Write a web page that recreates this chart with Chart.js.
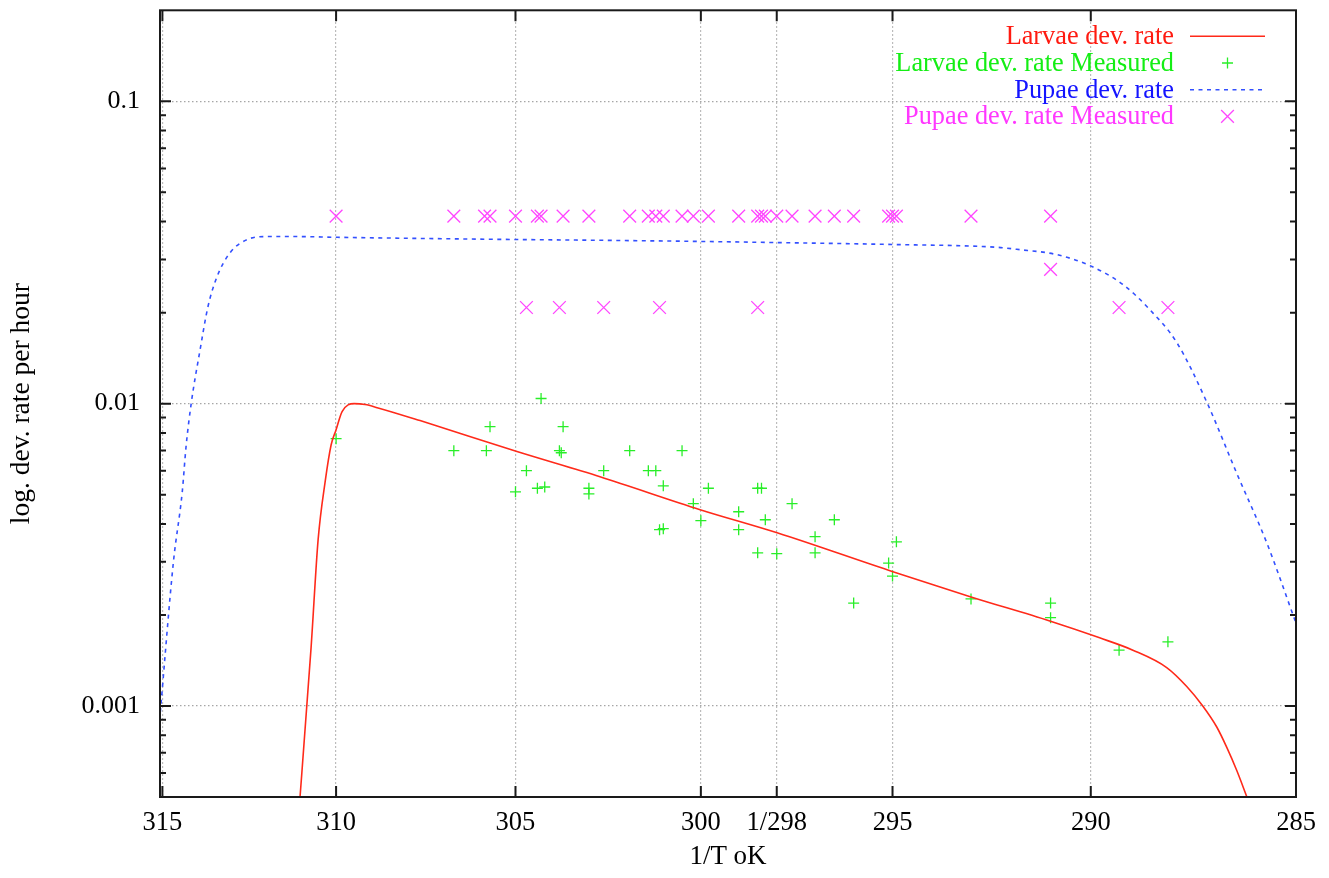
<!DOCTYPE html>
<html>
<head>
<meta charset="utf-8">
<title>Larvae and pupae development rate</title>
<script src="https://cdn.jsdelivr.net/npm/chart.js@4.4.0/dist/chart.umd.min.js"></script>
<style>
  html, body { margin: 0; padding: 0; background: #fff; }
  #chart { display: block; }
</style>
</head>
<body>
<canvas id="chart" width="1329" height="878"></canvas>
<script>
// temperatures in K, rates per hour
const larvaeFitT = [311.11, 310.71, 310.51, 310.31, 310.14, 310.0, 309.83, 309.49, 309.18, 308.84,
  307.64, 304.96, 302.70, 300.02, 297.99, 294.99, 292.98, 291.02, 289.78, 288.96,
  288.13, 287.64, 287.25, 286.91, 286.67, 286.43, 286.19, 286.06];
const larvaeFitRate = [0.00037, 0.00156, 0.00355, 0.00552, 0.00731, 0.0082, 0.00941, 0.0100, 0.00993, 0.0097,
  0.00879, 0.00694, 0.00573, 0.00446, 0.00374, 0.00278, 0.00229, 0.00191, 0.00168, 0.00153,
  0.00134, 0.00116, 0.00100, 0.000852, 0.000731, 0.000614, 0.000504, 0.000452];

const larvaeMeasT = [310.0, 306.7, 305.8, 305.7, 305.0, 304.7, 304.4, 304.2, 304.3, 303.8,
  303.75, 303.7, 303.0, 303.0, 302.6, 301.9, 301.4, 301.2, 301.1, 301.0,
  301.0, 300.5, 300.2, 300.0, 299.8, 299.0, 299.0, 298.5, 298.4, 298.3,
  298.5, 298.0, 297.6, 297.0, 297.0, 296.5, 296.0, 295.1, 295.0, 294.9,
  293.0, 291.0, 291.0, 289.3, 288.1];
const larvaeMeasRate = [0.00766, 0.00699, 0.00699, 0.00839, 0.00511, 0.00600, 0.00525, 0.00530, 0.0104, 0.00699,
  0.00688, 0.00839, 0.00525, 0.00503, 0.00600, 0.00699, 0.00600, 0.00600, 0.00383, 0.00386,
  0.00535, 0.00699, 0.00467, 0.00410, 0.00525, 0.00439, 0.00383, 0.00525, 0.00525, 0.00413,
  0.00321, 0.00319, 0.00467, 0.00363, 0.00321, 0.00413, 0.00219, 0.00297, 0.00269, 0.00349,
  0.00226, 0.00219, 0.00196, 0.00153, 0.00163];

const pupaeFitT = [315.06, 314.68, 314.42, 314.31, 314.16, 313.90, 313.67, 313.41, 313.03, 312.54,
  311.97, 311.22, 309.97, 307.72, 304.96, 302.70, 300.02, 297.97, 294.99, 292.35,
  291.85, 290.84, 289.97, 289.21, 288.55, 287.88, 287.15, 286.43, 285.70, 285.0];
const pupaeFitRate = [0.000955, 0.00298, 0.00511, 0.0072, 0.0100, 0.0151, 0.0210, 0.0263, 0.0316, 0.0349,
  0.0357, 0.0357, 0.0355, 0.0352, 0.0349, 0.0347, 0.0344, 0.0341, 0.0336, 0.0329,
  0.0324, 0.0311, 0.0284, 0.0248, 0.0205, 0.0159, 0.0101, 0.0059, 0.00346, 0.00188];

const pupaeMeasT = [310.0, 306.7, 305.85, 305.7, 305.0, 304.4, 304.3, 303.7, 303.0, 301.9,
  301.4, 301.2, 301.0, 300.5, 300.2, 299.8, 299.0, 298.5, 298.4, 298.3,
  298.0, 297.6, 297.0, 296.5, 296.0, 295.1, 295.0, 294.9, 293.0, 291.0,
  291.0, 304.7, 303.8, 302.6, 301.1, 298.5, 289.3, 288.1];
const pupaeMeasRate = [0.0417, 0.0417, 0.0417, 0.0417, 0.0417, 0.0417, 0.0417, 0.0417, 0.0417, 0.0417,
  0.0417, 0.0417, 0.0417, 0.0417, 0.0417, 0.0417, 0.0417, 0.0417, 0.0417, 0.0417,
  0.0417, 0.0417, 0.0417, 0.0417, 0.0417, 0.0417, 0.0417, 0.0417, 0.0417, 0.0417,
  0.0278, 0.0208, 0.0208, 0.0208, 0.0208, 0.0208, 0.0208, 0.0208];

const seriesNames = ['Larvae dev. rate', 'Larvae dev. rate Measured', 'Pupae dev. rate', 'Pupae dev. rate Measured'];
const legendTextColors = ['#ff1a10', '#14ee14', '#1414ff', '#ff38ff'];

const xTickT = [315, 310, 305, 300, 298, 295, 290, 285];
const xTickLabels = ['315', '310', '305', '300', '1/298', '295', '290', '285'];
const yTickValues = [0.001, 0.01, 0.1];
const yTickLabels = ['0.001', '0.01', '0.1'];

const FONT = '"Liberation Serif", "Times New Roman", serif';

// x is plotted as 1/T, labelled with T
function toPoints(temps, rates) {
  return temps.map((t, i) => ({ x: 1 / t, y: rates[i] }));
}

// gnuplot style frame with inward ticks on all four sides
const framePlugin = {
  id: 'gnuplotFrame',
  afterDraw(chart) {
    const { ctx, chartArea: a } = chart;
    const xs = chart.scales.x, ys = chart.scales.y;
    ctx.save();
    ctx.strokeStyle = '#1a1a1a';
    ctx.lineWidth = 2;
    ctx.setLineDash([]);
    ctx.strokeRect(a.left, a.top, a.right - a.left, a.bottom - a.top);
    ctx.beginPath();
    xTickT.forEach(t => {
      const px = xs.getPixelForValue(1 / t);
      ctx.moveTo(px, a.bottom); ctx.lineTo(px, a.bottom - 11);
      ctx.moveTo(px, a.top); ctx.lineTo(px, a.top + 11);
    });
    yTickValues.forEach(v => {
      const py = ys.getPixelForValue(v);
      ctx.moveTo(a.left, py); ctx.lineTo(a.left + 11, py);
      ctx.moveTo(a.right, py); ctx.lineTo(a.right - 11, py);
    });
    for (let d = 1e-4; d < ys.max; d *= 10) {
      for (let m = 2; m <= 9; m++) {
        const v = m * d;
        if (v <= ys.min * 1.001 || v >= ys.max * 0.999) continue;
        const py = ys.getPixelForValue(v);
        ctx.moveTo(a.left, py); ctx.lineTo(a.left + 6, py);
        ctx.moveTo(a.right, py); ctx.lineTo(a.right - 6, py);
      }
    }
    ctx.stroke();
    ctx.restore();
  }
};

// key in the top right corner: text right aligned, sample on its right
const legendPlugin = {
  id: 'insideLegend',
  afterDraw(chart) {
    const { ctx, chartArea: a } = chart;
    const textRight = a.right - 122;
    const sampleL = a.right - 106, sampleR = a.right - 31;
    const mid = (sampleL + sampleR) / 2;
    ctx.save();
    ctx.font = '26.3px ' + FONT;
    ctx.textAlign = 'right';
    ctx.textBaseline = 'middle';
    chart.data.datasets.forEach((ds, i) => {
      const y = a.top + 26 + i * 26.7;
      ctx.fillStyle = legendTextColors[i];
      ctx.fillText(ds.label, textRight, y + 1);
      ctx.strokeStyle = ds.borderColor;
      ctx.beginPath();
      if (ds.showLine) {
        ctx.lineWidth = ds.borderWidth;
        ctx.setLineDash(ds.borderDash || []);
        ctx.moveTo(sampleL, y); ctx.lineTo(sampleR, y);
      } else if (ds.pointStyle === 'cross') {
        ctx.lineWidth = ds.pointBorderWidth;
        ctx.setLineDash([]);
        const r = ds.pointRadius;
        ctx.moveTo(mid - r, y); ctx.lineTo(mid + r, y);
        ctx.moveTo(mid, y - r); ctx.lineTo(mid, y + r);
      } else {
        ctx.lineWidth = ds.pointBorderWidth;
        ctx.setLineDash([]);
        const r = ds.pointRadius * Math.SQRT1_2;
        ctx.moveTo(mid - r, y - r); ctx.lineTo(mid + r, y + r);
        ctx.moveTo(mid - r, y + r); ctx.lineTo(mid + r, y - r);
      }
      ctx.stroke();
    });
    ctx.restore();
  }
};

Chart.defaults.font.family = FONT;
Chart.defaults.font.size = 26;
Chart.defaults.color = '#000';

new Chart(document.getElementById('chart'), {
  type: 'scatter',
  data: {
    datasets: [
      {
        label: seriesNames[0],
        data: toPoints(larvaeFitT, larvaeFitRate),
        showLine: true,
        borderColor: '#ff2a1a',
        borderWidth: 1.6,
        pointRadius: 0,
        cubicInterpolationMode: 'monotone'
      },
      {
        label: seriesNames[1],
        data: toPoints(larvaeMeasT, larvaeMeasRate),
        pointStyle: 'cross',
        pointRadius: 5.5,
        pointBorderWidth: 1.3,
        borderColor: 'rgb(40,238,40)',
        pointBorderColor: 'rgb(40,238,40)',
        backgroundColor: 'rgb(40,238,40)'
      },
      {
        label: seriesNames[2],
        data: toPoints(pupaeFitT, pupaeFitRate),
        showLine: true,
        borderColor: '#3350ff',
        borderWidth: 1.6,
        borderDash: [4, 4.5],
        pointRadius: 0,
        cubicInterpolationMode: 'monotone'
      },
      {
        label: seriesNames[3],
        data: toPoints(pupaeMeasT, pupaeMeasRate),
        pointStyle: 'crossRot',
        pointRadius: 9,
        pointBorderWidth: 1.3,
        borderColor: 'rgb(255,70,255)',
        pointBorderColor: 'rgb(255,70,255)',
        backgroundColor: 'rgb(255,70,255)'
      }
    ]
  },
  options: {
    responsive: false,
    animation: false,
    devicePixelRatio: 1,
    layout: { padding: { top: 9, right: 33, bottom: 0, left: 0 } },
    plugins: {
      legend: { display: false },
      tooltip: { enabled: false }
    },
    scales: {
      x: {
        type: 'linear',
        min: 1 / 315.07,
        max: 1 / 285,
        afterBuildTicks: s => { s.ticks = xTickT.map(t => ({ value: 1 / t })); },
        afterFit: s => { s.height = 81; s.paddingLeft = 0; s.paddingRight = 0; },
        ticks: {
          autoSkip: false,
          maxRotation: 0,
          padding: 10,
          color: '#000',
          font: { size: 26.5 },
          callback: (v, i) => xTickLabels[i]
        },
        grid: { color: '#a6a6a6', lineWidth: 1.2, drawTicks: false },
        border: { display: false, dash: [1.5, 2.5] },
        title: { display: true, text: '1/T oK', color: '#000', font: { size: 27 }, padding: { top: 0, bottom: 5 } }
      },
      y: {
        type: 'logarithmic',
        min: 0.0005,
        max: 0.2,
        afterBuildTicks: s => { s.ticks = yTickValues.map(v => ({ value: v })); },
        afterFit: s => { s.width = 160; s.paddingTop = 0; s.paddingBottom = 0; },
        ticks: {
          autoSkip: false,
          padding: 20,
          color: '#000',
          font: { size: 26 },
          callback: (v, i) => yTickLabels[i]
        },
        grid: { color: '#a6a6a6', lineWidth: 1.2, drawTicks: false },
        border: { display: false, dash: [1.5, 2.5] },
        title: { display: true, text: 'log. dev. rate per hour', color: '#000', font: { size: 27.5 }, padding: { top: 5.5, bottom: 0 } }
      }
    }
  },
  plugins: [framePlugin, legendPlugin]
});
</script>
</body>
</html>
